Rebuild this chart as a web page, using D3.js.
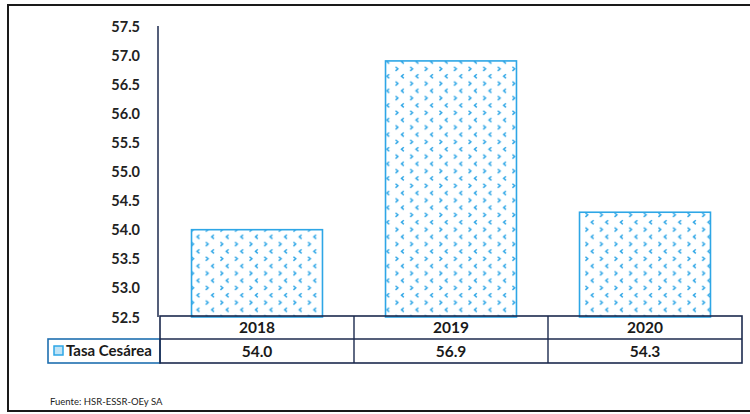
<!DOCTYPE html>
<html>
<head>
<meta charset="utf-8">
<script src="https://cdn.jsdelivr.net/npm/d3@7"></script>
<style>
  html, body { margin: 0; padding: 0; background: #ffffff; }
  svg { display: block; }
</style>
</head>
<body>
<svg id="chart" width="750" height="414"></svg>
<script>
// Data
const categories = ["2018", "2019", "2020"];
const values = [54.0, 56.9, 54.3];
const seriesName = "Tasa Cesárea";
const yTicks = [52.5, 53.0, 53.5, 54.0, 54.5, 55.0, 55.5, 56.0, 56.5, 57.0, 57.5];
const source = "Fuente: HSR-ESSR-OEy SA";

const svg = d3.select("#chart");
const font = "Lato, 'Open Sans', sans-serif";
const barBlue = "#2ea6e6";
const navy = "#1c2a4e";

// Outer frame
svg.append("rect").attr("x", 8).attr("y", 5).attr("width", 760).attr("height", 406)
  .attr("fill", "none").attr("stroke", "#1a1a1a").attr("stroke-width", 2);

// Chevron fill pattern
const defs = svg.append("defs");
const pat = defs.append("pattern").attr("id", "chev")
  .attr("patternUnits", "userSpaceOnUse").attr("width", 14.6).attr("height", 14.6)
  .attr("x", 0).attr("y", 0);
pat.append("path").attr("d", "M9.6,1.2 L7.3,3.2 L9.6,5.2")
  .attr("fill", "none").attr("stroke", barBlue).attr("stroke-width", 1.5);
pat.append("path").attr("d", "M1.4,8.5 L3.7,10.5 L1.4,12.5")
  .attr("fill", "none").attr("stroke", barBlue).attr("stroke-width", 1.5);

// Scales
const x = d3.scaleBand().domain(categories).range([160, 742]).paddingInner(0.325).paddingOuter(0.1625);
const xCell = d3.scaleBand().domain(categories).range([160, 742]);
const y = d3.scaleLinear().domain([52.5, 57.5]).range([317, 26]);

// Y axis labels
const yAxis = d3.axisLeft(y).tickValues(yTicks).tickFormat(d3.format(".1f")).tickSize(0).tickPadding(18);
const gy = svg.append("g").attr("transform", "translate(158,0)").call(yAxis);
gy.select(".domain").remove();
gy.selectAll("text").attr("font-family", font).attr("font-weight", "bold")
  .attr("font-size", 14.5).attr("fill", "#222").attr("dy", "0.35em");
svg.append("line").attr("x1", 158).attr("x2", 158).attr("y1", 26).attr("y2", 317)
  .attr("stroke", navy).attr("stroke-width", 1.5);

// Bars
svg.append("g").selectAll("rect").data(categories).join("rect")
  .attr("x", d => x(d))
  .attr("y", (d, i) => y(values[i]))
  .attr("width", x.bandwidth())
  .attr("height", (d, i) => y(52.5) - y(values[i]))
  .attr("fill", "url(#chev)")
  .attr("stroke", barBlue).attr("stroke-width", 1.6);

// Data table
const rowTop = 316, rowMid = 339, rowBot = 363;
const table = svg.append("g");
table.append("rect").attr("x", 48).attr("y", rowMid).attr("width", 112).attr("height", rowBot - rowMid)
  .attr("fill", "none").attr("stroke", "#1f6fb0").attr("stroke-width", 1.6);
table.append("rect").attr("x", 160).attr("y", rowTop).attr("width", 582).attr("height", rowBot - rowTop)
  .attr("fill", "none").attr("stroke", navy).attr("stroke-width", 1.6);
table.append("line").attr("x1", 160).attr("x2", 742).attr("y1", rowMid).attr("y2", rowMid)
  .attr("stroke", navy).attr("stroke-width", 1.4);
table.selectAll("line.div").data(categories.slice(1)).join("line").attr("class", "div")
  .attr("x1", d => xCell(d)).attr("x2", d => xCell(d))
  .attr("y1", rowTop).attr("y2", rowBot)
  .attr("stroke", navy).attr("stroke-width", 1.4);

table.selectAll("text.cat").data(categories).join("text").attr("class", "cat")
  .attr("x", d => xCell(d) + xCell.bandwidth() / 2).attr("y", (rowTop + rowMid) / 2)
  .attr("dy", "0.36em").attr("text-anchor", "middle")
  .attr("font-family", font).attr("font-weight", "bold").attr("font-size", 15.5).attr("fill", "#1a1a1a")
  .text(d => d);
table.selectAll("text.val").data(categories).join("text").attr("class", "val")
  .attr("x", d => xCell(d) + xCell.bandwidth() / 2).attr("y", (rowMid + rowBot) / 2)
  .attr("dy", "0.36em").attr("text-anchor", "middle")
  .attr("font-family", font).attr("font-weight", "bold").attr("font-size", 15.5).attr("fill", "#1a1a1a")
  .text((d, i) => d3.format(".1f")(values[i]));

// Legend key
table.append("rect").attr("x", 54).attr("y", 346).attr("width", 9).attr("height", 9)
  .attr("fill", "#bfe3f6").attr("stroke", barBlue).attr("stroke-width", 1.5);
table.append("text").attr("x", 66).attr("y", (rowMid + rowBot) / 2).attr("dy", "0.36em")
  .attr("font-family", font).attr("font-weight", "bold").attr("font-size", 15).attr("fill", "#1a1a1a")
  .text(seriesName);

// Source note
svg.append("text").attr("x", 50).attr("y", 405)
  .attr("font-family", font).attr("font-size", 9.5).attr("fill", "#222")
  .text(source);
</script>
</body>
</html>
